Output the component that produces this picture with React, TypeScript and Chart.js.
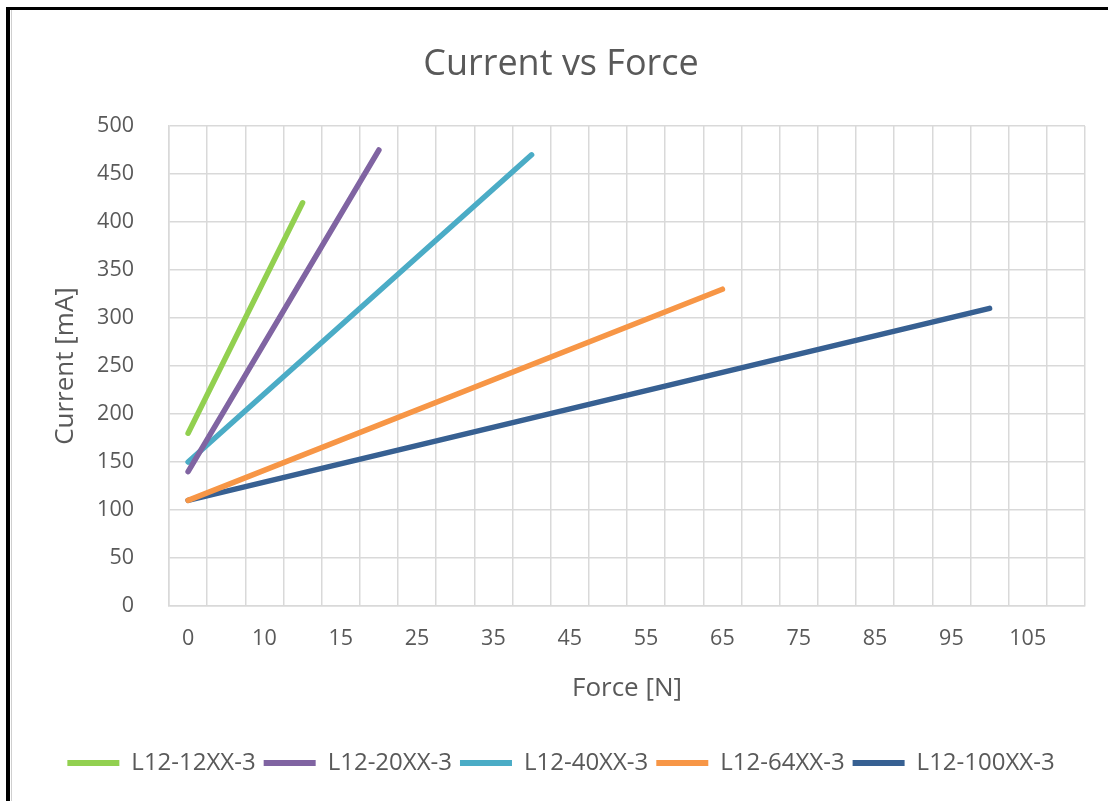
import React, { useEffect, useRef } from 'react';
import { Chart, registerables } from 'chart.js';

Chart.register(...registerables);

// Category axis of force values [N]
const forceCategories = ['0', '5', '10', '12', '15', '20', '25', '30', '35', '40', '45', '50', '55', '60', '65', '70', '75', '80', '85', '90', '95', '100', '105', '110'];

// Series
const seriesNames = ['L12-12XX-3', 'L12-20XX-3', 'L12-40XX-3', 'L12-64XX-3', 'L12-100XX-3'];
const seriesColors = ['#92D050', '#8064A2', '#4BACC6', '#F79646', '#376092'];
const startForces = ['0', '0', '0', '0', '0'];
const startCurrents = [180, 140, 150, 110, 110];
const endForces = ['12', '20', '40', '65', '100'];
const endCurrents = [420, 475, 470, 330, 310];

// Y axis
const yMin = 0;
const yMax = 500;
const yStep = 50;

const FONT = "'Open Sans', 'Noto Sans', sans-serif";
const TEXT = '#595959';
const GRID = '#d9d9d9';

export default function App() {
  const ref = useRef<HTMLCanvasElement | null>(null);

  useEffect(() => {
    const canvas = ref.current;
    if (!canvas) return;
    const datasets = seriesNames.map((name, i) => ({
      label: name,
      data: [
        { x: startForces[i], y: startCurrents[i] },
        { x: endForces[i], y: endCurrents[i] },
      ],
      borderColor: seriesColors[i],
      backgroundColor: seriesColors[i],
      borderWidth: 5.5,
      borderCapStyle: 'round' as const,
      borderJoinStyle: 'round' as const,
      pointRadius: 0,
      pointHoverRadius: 0,
      tension: 0,
      spanGaps: true,
    }));

    const chart = new Chart(canvas, {
      type: 'line',
      data: { labels: forceCategories, datasets },
      options: {
        animation: false,
        responsive: false,
        events: [],
        layout: { padding: { left: 37, right: 23, top: 0, bottom: 16 } },
        plugins: {
          tooltip: { enabled: false },
          title: {
            display: true,
            text: 'Current vs Force',
            color: TEXT,
            font: { family: FONT, size: 36, weight: 'normal' },
            padding: { top: 43, bottom: 39.8 },
          },
          legend: {
            position: 'bottom',
            labels: {
              boxWidth: 52,
              boxHeight: 6,
              padding: 8,
              color: TEXT,
              font: { family: FONT, size: 24 },
              generateLabels: (c: any) =>
                c.data.datasets.map((ds: any, i: number) => ({
                  text: ds.label,
                  fillStyle: ds.borderColor,
                  strokeStyle: ds.borderColor,
                  lineWidth: 0,
                  hidden: false,
                  datasetIndex: i,
                  fontColor: TEXT,
                })),
            },
          },
        },
        scales: {
          x: {
            type: 'category',
            offset: true,
            grid: { offset: true, drawTicks: false, color: GRID, lineWidth: 1.5 },
            border: { color: GRID, width: 1.5 },
            ticks: {
              autoSkip: false,
              maxRotation: 0,
              minRotation: 0,
              padding: 20,
              color: TEXT,
              font: { family: FONT, size: 21.5 },
              callback: (_v: any, i: number) => (i % 2 === 0 ? forceCategories[i] : ''),
            },
            title: {
              display: true,
              text: 'Force [N]',
              color: TEXT,
              font: { family: FONT, size: 26 },
              padding: { top: 0, bottom: 38.4 },
            },
            afterFit: (s: any) => {
              s.height = 137;
            },
          },
          y: {
            min: yMin,
            max: yMax,
            grid: { drawTicks: false, color: GRID, lineWidth: 1.5 },
            border: { color: GRID, width: 1.5 },
            ticks: {
              stepSize: yStep,
              padding: 35,
              color: TEXT,
              font: { family: FONT, size: 21.5 },
            },
            title: {
              display: true,
              text: 'Current [mA]',
              color: TEXT,
              font: { family: FONT, size: 26 },
              padding: { top: 13.4, bottom: 0 },
            },
            afterFit: (s: any) => {
              s.width = 132;
            },
          },
        },
      },
    });
    return () => chart.destroy();
  }, []);

  return (
    <div style={{ position: 'fixed', left: 0, top: 0, width: 1108, height: 801, overflow: 'hidden', background: '#fff' }}>
      <div
        style={{
          position: 'absolute',
          left: 6,
          top: 7,
          width: 1200,
          height: 900,
          borderLeft: '4px solid #000',
          borderTop: '3px solid #000',
        }}
      />
      <div style={{ position: 'absolute', left: 11, top: 10, width: 1, height: 800, background: '#cfcfcf' }} />
      <canvas ref={ref} width={1108} height={801} style={{ position: 'absolute', left: 0, top: 0, width: 1108, height: 801 }} />
    </div>
  );
}
